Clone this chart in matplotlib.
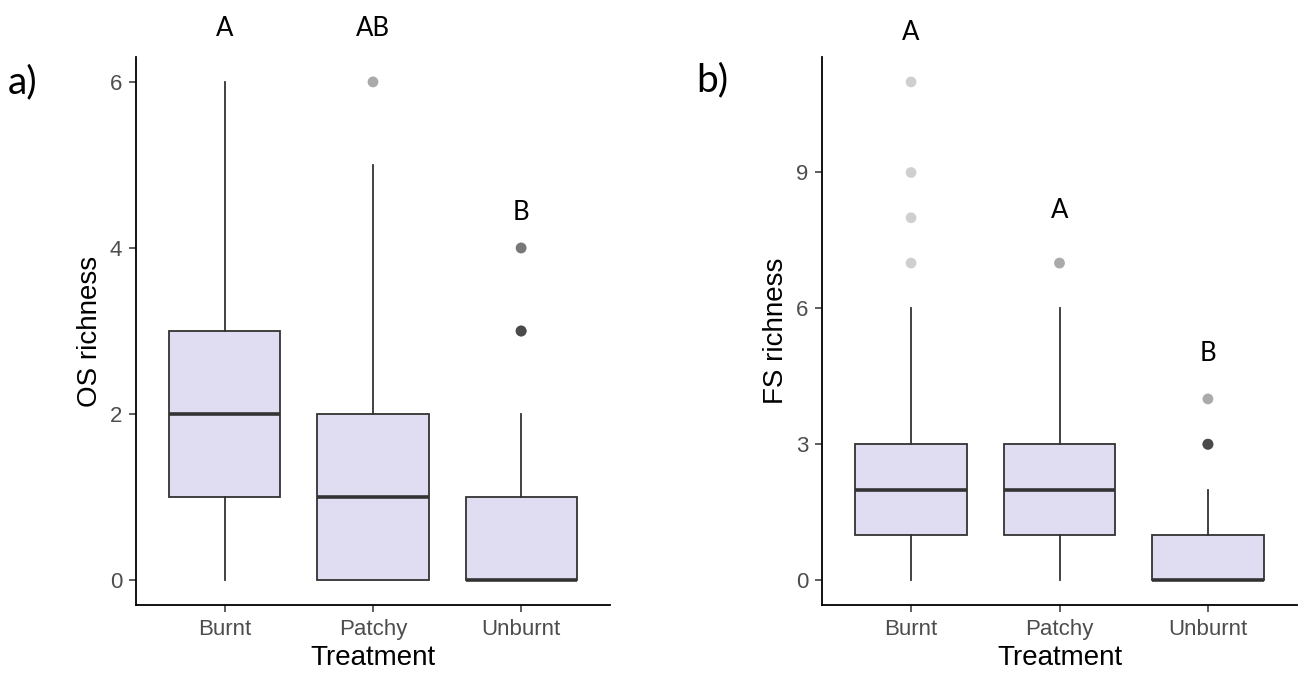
import matplotlib
matplotlib.use("Agg")
import matplotlib.pyplot as plt

categories = ["Burnt", "Patchy", "Unburnt"]

# OS richness box statistics
os_q1 = [1, 0, 0]
os_med = [2, 1, 0]
os_q3 = [3, 2, 1]
os_whislo = [0, 0, 0]
os_whishi = [6, 5, 2]
os_out_cat = [1, 2, 2]
os_out_val = [6, 3, 4]
os_out_n = [2, 8, 4]
os_letters = ["A", "AB", "B"]
os_letter_y = [6.64, 6.64, 4.43]
os_yticks = [0, 2, 4, 6]

# FS richness box statistics
fs_q1 = [1, 1, 0]
fs_med = [2, 2, 0]
fs_q3 = [3, 3, 1]
fs_whislo = [0, 0, 0]
fs_whishi = [6, 6, 2]
fs_out_cat = [0, 0, 0, 0, 1, 2, 2]
fs_out_val = [7, 8, 9, 11, 7, 3, 4]
fs_out_n = [1, 1, 1, 1, 2, 8, 2]
fs_letters = ["A", "A", "B"]
fs_letter_y = [12.1, 8.16, 5.0]
fs_yticks = [0, 3, 6, 9]

FILL = "#E0DDF3"
EDGE = "#333333"
TICKC = "#4D4D4D"
SANS = "Liberation Sans"
LETTER_FONT = "Lato"

fig = plt.figure(figsize=(12.99, 6.73), dpi=100)
ax1 = fig.add_axes([136/1299, 1-605/673, (610-136)/1299, (605-57)/673])
ax2 = fig.add_axes([822/1299, 1-605/673, (1297-822)/1299, (605-57)/673])


def draw(ax, q1, med, q3, lo, hi, oc, ov, on, letters, ly, yticks, ylim, ylabel):
    stats = []
    for i in range(len(categories)):
        stats.append(dict(q1=q1[i], med=med[i], q3=q3[i], whislo=lo[i],
                          whishi=hi[i], fliers=[], label=categories[i]))
    ax.bxp(stats, positions=range(len(categories)), widths=0.75,
           patch_artist=True, showcaps=False, showfliers=False,
           boxprops=dict(facecolor=FILL, edgecolor=EDGE, linewidth=1.3),
           whiskerprops=dict(color=EDGE, linewidth=1.3),
           medianprops=dict(color=EDGE, linewidth=2.6, solid_capstyle="butt"))
    for c, v, n in zip(oc, ov, on):
        for _ in range(n):
            ax.scatter([c], [v], s=60, color=EDGE, alpha=0.23,
                       edgecolors="none", zorder=3)
    for i, t in enumerate(letters):
        ax.text(i, ly[i], t, ha="center", va="center", fontsize=18.5,
                family=LETTER_FONT, color="black", clip_on=False)
    ax.set_xlim(-0.6, len(categories) - 0.4)
    ax.set_ylim(*ylim)
    ax.set_yticks(yticks)
    ax.set_xticks(range(len(categories)))
    ax.set_xticklabels(categories)
    for s in ["top", "right"]:
        ax.spines[s].set_visible(False)
    for s in ["left", "bottom"]:
        ax.spines[s].set_linewidth(1.3)
        ax.spines[s].set_color("black")
    ax.tick_params(length=5, width=1.1, color=EDGE, labelcolor=TICKC,
                   labelsize=16, pad=5)
    for lab in ax.get_xticklabels() + ax.get_yticklabels():
        lab.set_family(SANS)
    ax.set_xlabel("Treatment", fontsize=20, family=SANS, labelpad=4)
    ax.set_ylabel(ylabel, fontsize=20, family=SANS, labelpad=5)


draw(ax1, os_q1, os_med, os_q3, os_whislo, os_whishi, os_out_cat, os_out_val,
     os_out_n, os_letters, os_letter_y, os_yticks, (-0.3, 6.3), "OS richness")
draw(ax2, fs_q1, fs_med, fs_q3, fs_whislo, fs_whishi, fs_out_cat, fs_out_val,
     fs_out_n, fs_letters, fs_letter_y, fs_yticks, (-0.55, 11.55), "FS richness")

fig.text(23/1299, 1-82/673, "a)", fontsize=28, family=LETTER_FONT,
         ha="center", va="center")
fig.text(712/1299, 1-80/673, "b)", fontsize=28, family=LETTER_FONT,
         ha="center", va="center")

fig.savefig("out.png", dpi=100)
